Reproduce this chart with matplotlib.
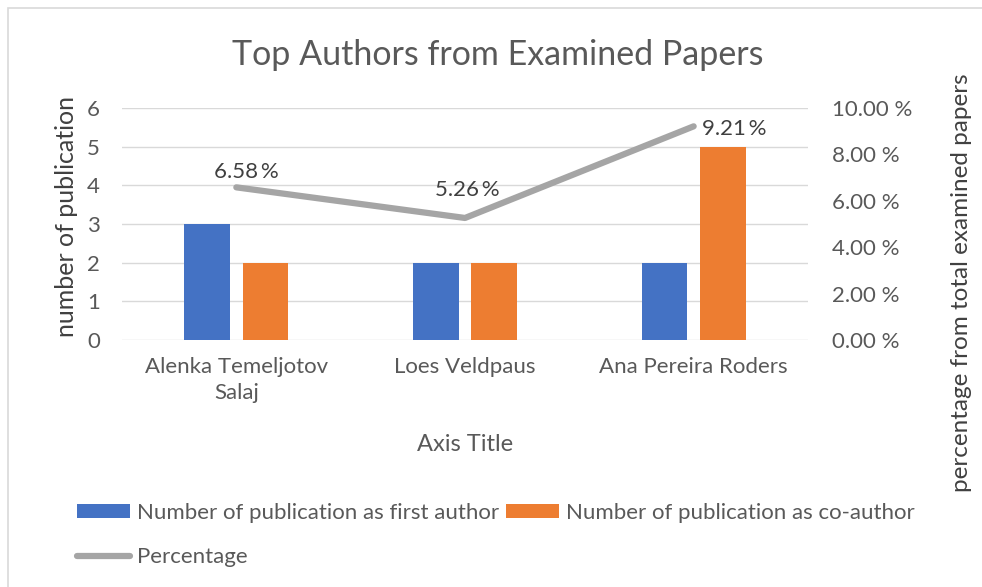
import numpy as np
import matplotlib.pyplot as plt
from matplotlib.patches import Rectangle
from matplotlib.ticker import FuncFormatter

plt.rcParams['font.family'] = ['Lato', 'DejaVu Sans']

# donnees du graphique
auteurs = ['Alenka Temeljotov\nSalaj', 'Loes Veldpaus', 'Ana Pereira Roders']
premier_auteur = [3, 2, 2]
co_auteur = [2, 2, 5]
pourcentage = [6.58, 5.26, 9.21]

gris_texte = '#595959'
bleu = '#4472c4'
orange = '#ed7d31'
gris_ligne = '#a5a5a5'

fig = plt.figure(figsize=(9.82, 5.87), dpi=100)
# cadre du graphique
fig.patches.append(Rectangle((8 / 982, -0.05), 1.0, 1.05 - 8 / 587, transform=fig.transFigure,
                             fill=False, edgecolor='#d9d9d9', linewidth=1.2))

ax = fig.add_axes([122 / 982, 1 - 340 / 587, 686 / 982, 232 / 587])
x = np.arange(len(auteurs))
larg = 0.2
b1 = ax.bar(x - 0.127, premier_auteur, larg, color=bleu, zorder=3)
b2 = ax.bar(x + 0.127, co_auteur, larg, color=orange, zorder=3)
ax.set_xlim(-0.5, len(auteurs) - 0.5)
ax.set_ylim(0, 6)
ax.set_yticks(range(0, 7))
ax.grid(axis='y', color='#d9d9d9', linewidth=1, zorder=0)
for s in ax.spines.values():
    s.set_visible(False)
ax.tick_params(length=0, labelsize=16, colors=gris_texte)
ax.tick_params(axis='y', pad=16)
ax.set_xticks(x)
ax.set_xticklabels(auteurs, fontsize=16, color=gris_texte, linespacing=1.4)
ax.tick_params(axis='x', pad=12)
ax.set_xlabel('Axis Title', fontsize=17, color=gris_texte, labelpad=22)

ax2 = ax.twinx()
l1, = ax2.plot(x, pourcentage, color=gris_ligne, linewidth=4.5, solid_capstyle='round', zorder=4)
ax2.set_ylim(0, 10)
ax2.set_yticks(np.arange(0, 11, 2))
ax2.yaxis.set_major_formatter(FuncFormatter(lambda v, p: '%.2f %%' % v))
for s in ax2.spines.values():
    s.set_visible(False)
ax2.tick_params(length=0, labelsize=16, colors=gris_texte, pad=17)

# etiquettes de donnees : decalage (points) et alignement de chacune
decalages = [((7, 4), 'center', 'bottom'), ((2, 13), 'center', 'bottom'), ((6, -2), 'left', 'center')]
for xi, p, (d, ha, va) in zip(x, pourcentage, decalages):
    ax2.annotate('%.2f\u2009%%' % p, (xi, p), xytext=d, textcoords='offset points',
                 ha=ha, va=va, fontsize=16, color='#404040')

# titres des axes verticaux
fig.text(66 / 982, 1 - 216 / 587, 'number of publication', rotation=90, ha='center', va='center',
         fontsize=18, color='#404040')
fig.text(961 / 982, 1 - 283 / 587, 'percentage from total examined papers', rotation=90,
         ha='center', va='center', fontsize=17.5, color='#404040')

fig.text(498 / 982, 1 - 55 / 587, 'Top Authors from Examined Papers', ha='center', va='center',
         fontsize=24.5, color=gris_texte)

fig.legend([b1, l1, b2], ['Number of publication as first author', 'Percentage',
                          'Number of publication as co-author'],
           ncol=2, loc='upper left', bbox_to_anchor=(68 / 982, 1 - 494 / 587),
           frameon=False, fontsize=16, labelcolor=gris_texte, handlelength=2.4,
           handleheight=0.6, handletextpad=0.3, columnspacing=0.3, labelspacing=1.1,
           borderaxespad=0)

plt.savefig('out.png', dpi=100)
